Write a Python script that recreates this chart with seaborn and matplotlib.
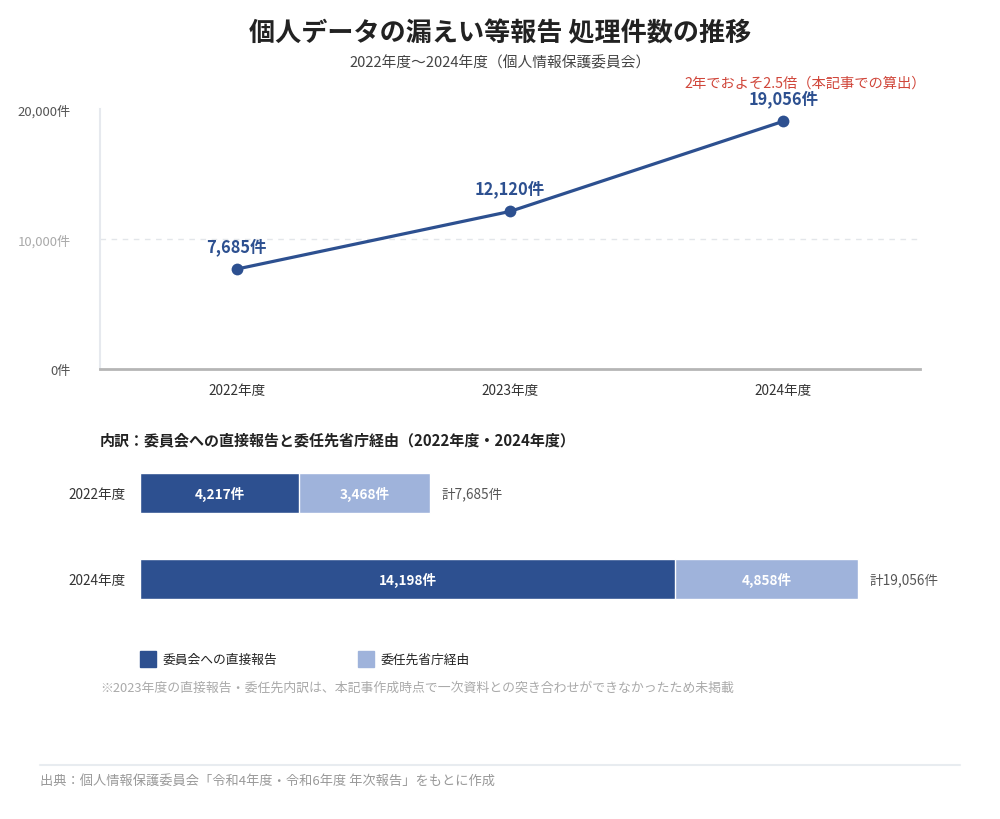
import pandas as pd
import seaborn as sns
import matplotlib.pyplot as plt
from matplotlib.patches import Rectangle
from matplotlib.lines import Line2D

# data
years = ['2022年度', '2023年度', '2024年度']
totals = [7685, 12120, 19056]

bar_years = ['2022年度', '2024年度']
direct = [4217, 14198]
via_ministry = [3468, 4858]

y_ticks = [0, 10000, 20000]
y_tick_labels = ['0件', '10,000件', '20,000件']

DARK = '#2d5090'
LIGHT = '#9fb3db'

sns.set_theme(style='white')
plt.rcParams['font.family'] = ['Noto Sans CJK JP', 'DejaVu Sans']

fig = plt.figure(figsize=(10, 8.2), dpi=100)
W, H = 1000, 820


def box(x0, y0, x1, y1):
    return [x0 / W, 1 - y1 / H, (x1 - x0) / W, (y1 - y0) / H]


# title
fig.text(0.5, 1 - 34 / H, '個人データの漏えい等報告 処理件数の推移', ha='center', va='center',
         fontsize=18.8, fontweight='bold', color='#222222')
fig.text(0.5, 1 - 63 / H, '2022年度〜2024年度（個人情報保護委員会）', ha='center', va='center',
         fontsize=10.6, color='#444444')

# line chart
ax = fig.add_axes(box(100, 110, 920, 370))
line_df = pd.DataFrame({'year': years, 'total': totals})
sns.lineplot(data=line_df, x='year', y='total', ax=ax, color=DARK, linewidth=2.3,
             marker='o', markersize=8.5, markeredgewidth=0, sort=False)
ax.set_xlim(-0.5, 2.5)
ax.set_ylim(0, 20000)
ax.set_yticks(y_ticks)
ax.set_yticklabels(y_tick_labels)
ax.set_xlabel('')
ax.set_ylabel('')
for sp in ['top', 'right']:
    ax.spines[sp].set_visible(False)
ax.spines['left'].set_color('#e6e9ee')
ax.spines['left'].set_linewidth(1.5)
ax.spines['bottom'].set_color('#b5b5b5')
ax.spines['bottom'].set_linewidth(2)
ax.axhline(10000, color='#e3e6ea', linestyle=(0, (4, 4)), linewidth=1, zorder=0)
ax.tick_params(axis='y', length=0, pad=21, labelsize=9.5, labelcolor='#555555')
ax.tick_params(axis='x', length=0, pad=10, labelsize=9.8, labelcolor='#333333')
for lbl in ax.get_yticklabels():
    if lbl.get_text() == '10,000件':
        lbl.set_color('#aaaaaa')
for i, v in enumerate(totals):
    ax.annotate(f'{v:,}件', (i, v), xytext=(0, 10), textcoords='offset points',
                ha='center', va='bottom', fontsize=11.8, fontweight='bold', color=DARK)
fig.text(926 / W, 1 - 84 / H, '2年でおよそ2.5倍（本記事での算出）', ha='right', va='center',
         fontsize=10.3, color='#d0463a')

# breakdown header
fig.text(100 / W, 1 - 440 / H, '内訳：委員会への直接報告と委任先省庁経由（2022年度・2024年度）',
         ha='left', va='center', fontsize=10.8, fontweight='bold', color='#222222')

# stacked bar chart
bx = fig.add_axes(box(140, 451, 920, 623))
bar_df = pd.DataFrame({'year': bar_years, 'direct': direct,
                       'total': [d + m for d, m in zip(direct, via_ministry)]})
sns.barplot(data=bar_df, x='total', y='year', ax=bx, color=LIGHT, width=0.465,
            saturation=1, orient='h')
sns.barplot(data=bar_df, x='direct', y='year', ax=bx, color=DARK, width=0.465,
            saturation=1, orient='h')
bx.set_xlim(0, 20690)
bx.set_ylim(1.5, -0.5)
bx.set_xlabel('')
bx.set_ylabel('')
bx.set_xticks([])
for sp in bx.spines.values():
    sp.set_visible(False)
bx.tick_params(axis='y', length=0, pad=10, labelsize=9.8, labelcolor='#333333')
for i, (d, m) in enumerate(zip(direct, via_ministry)):
    bx.text(d / 2, i, f'{d:,}件', ha='center', va='center', color='white',
            fontsize=9.8, fontweight='bold')
    bx.text(d + m / 2, i, f'{m:,}件', ha='center', va='center', color='white',
            fontsize=9.8, fontweight='bold')
    bx.text(d + m + 300, i, f'計{d + m:,}件', ha='left', va='center', color='#555555',
            fontsize=9.8)

# legend
for x0, col, label in [(140, DARK, '委員会への直接報告'), (358, LIGHT, '委任先省庁経由')]:
    fig.patches.append(Rectangle((x0 / W, 1 - 668 / H), 16 / W, 16 / H, color=col,
                                 transform=fig.transFigure, figure=fig))
    fig.text((x0 + 23) / W, 1 - 660 / H, label, ha='left', va='center', fontsize=9.2,
             color='#222222')

fig.text(100 / W, 1 - 688 / H,
         '※2023年度の直接報告・委任先内訳は、本記事作成時点で一次資料との突き合わせができなかったため未掲載',
         ha='left', va='center', fontsize=9.3, color='#aaaaaa')

# footer
fig.add_artist(Line2D([40 / W, 960 / W], [1 - 766 / H, 1 - 766 / H], color='#e8ecf0',
                      linewidth=1.5, transform=fig.transFigure))
fig.text(40 / W, 1 - 781 / H, '出典：個人情報保護委員会「令和4年度・令和6年度 年次報告」をもとに作成',
         ha='left', va='center', fontsize=9.5, color='#999999')

fig.savefig('out.png', dpi=100)
